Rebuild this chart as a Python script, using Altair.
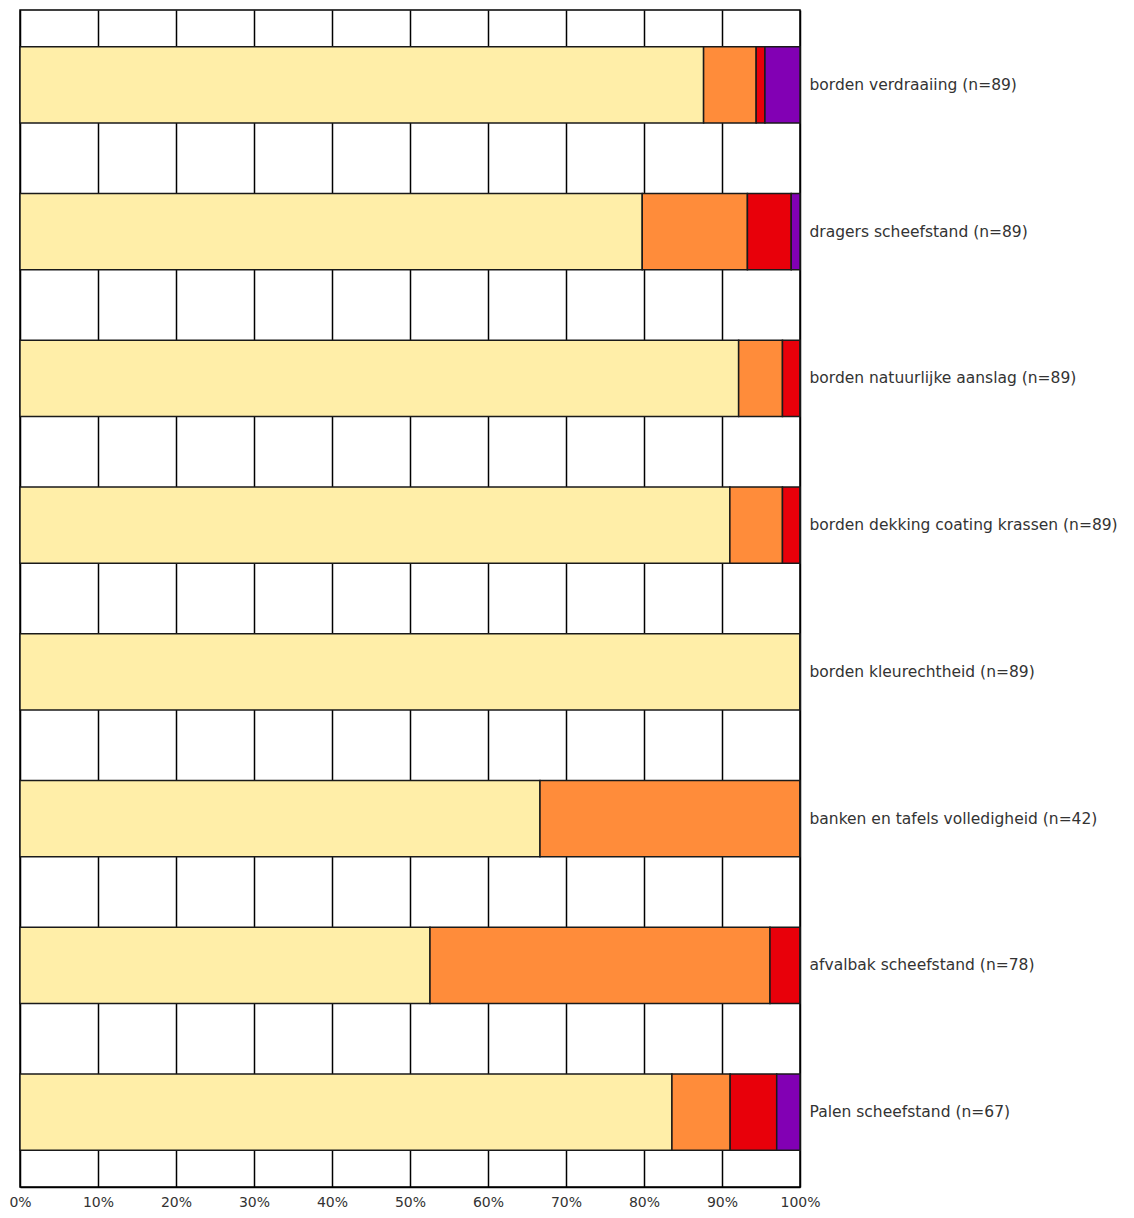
import altair as alt
import pandas as pd

# Onderdelen (van boven naar beneden)
onderdelen = [
    "borden verdraaiing (n=89)",
    "dragers scheefstand (n=89)",
    "borden natuurlijke aanslag (n=89)",
    "borden dekking coating krassen (n=89)",
    "borden kleurechtheid (n=89)",
    "banken en tafels volledigheid (n=42)",
    "afvalbak scheefstand (n=78)",
    "Palen scheefstand (n=67)",
]

# Aantallen per klasse (geschat uit de afbeelding)
klasse_1 = [78, 71, 82, 81, 89, 28, 41, 56]   # lichtgeel
klasse_2 = [6, 12, 5, 6, 0, 14, 34, 5]        # oranje
klasse_3 = [1, 5, 2, 2, 0, 0, 3, 4]           # rood
klasse_4 = [4, 1, 0, 0, 0, 0, 0, 2]           # paars

klassen = ["klasse 1", "klasse 2", "klasse 3", "klasse 4"]
kleuren = ["#FFEEA8", "#FF8C3A", "#E8000A", "#8200B4"]

rows = []
for i, o in enumerate(onderdelen):
    for k, vals in enumerate([klasse_1, klasse_2, klasse_3, klasse_4]):
        rows.append({"onderdeel": o, "klasse": klassen[k], "volgorde": k, "aantal": vals[i]})
df = pd.DataFrame(rows)

chart = (
    alt.Chart(df)
    .mark_bar(stroke="#1a1a1a", strokeWidth=1.5)
    .encode(
        x=alt.X(
            "aantal:Q",
            stack="normalize",
            scale=alt.Scale(domain=[0, 1], nice=False),
            axis=alt.Axis(
                format="%",
                values=[i / 10 for i in range(11)],
                title=None,
                ticks=False,
                domain=True,
                domainColor="#000000",
                domainWidth=1.5,
                grid=True,
                gridColor="#000000",
                gridWidth=1.5,
                gridOpacity=1,
                labelFlush=False,
                labelOverlap=False,
                labelPadding=8,
                labelFont="DejaVu Sans",
                labelFontSize=14,
                labelColor="#333333",
            ),
        ),
        y=alt.Y(
            "onderdeel:N",
            sort=onderdelen,
            scale=alt.Scale(paddingInner=0.48, paddingOuter=0.25),
            axis=alt.Axis(
                orient="right",
                title=None,
                ticks=False,
                domain=False,
                grid=False,
                labelPadding=9,
                labelFont="DejaVu Sans",
                labelFontSize=15.5,
                labelColor="#333333",
                labelLimit=400,
            ),
        ),
        color=alt.Color(
            "klasse:N",
            scale=alt.Scale(domain=klassen, range=kleuren),
            legend=None,
        ),
        order=alt.Order("volgorde:Q"),
    )
    .properties(
        width=780,
        height=1177,
        background="#ffffff",
        autosize=alt.AutoSizeParams(type="none"),
        padding={"left": 12, "top": 2, "right": 326, "bottom": 28},
    )
    .configure_view(stroke="#000000", strokeWidth=1.5)
)

chart.save("out.html", embed_options={"renderer": "svg", "actions": False})
